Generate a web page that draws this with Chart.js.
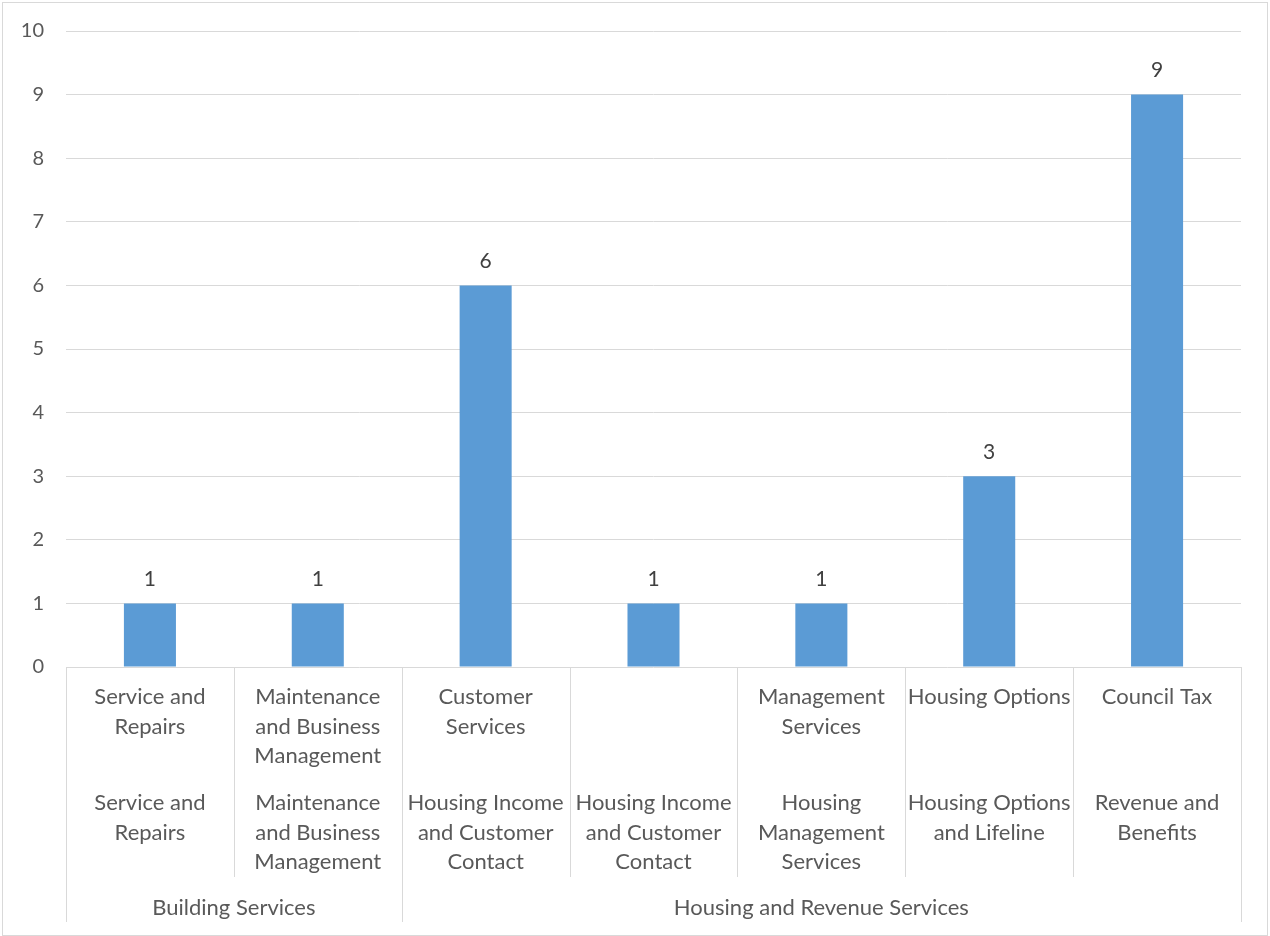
<!DOCTYPE html>
<html>
<head>
<meta charset="utf-8">
<script src="https://cdn.jsdelivr.net/npm/chart.js@4.4.1/dist/chart.umd.min.js"></script>
<style>
  html, body { margin: 0; padding: 0; background: #fff; }
  #wrap { width: 1270px; height: 936px; }
</style>
</head>
<body>
<div id="wrap"><canvas id="chart" width="1270" height="936"></canvas></div>
<script>
// ---------------------------------------
// data
// ---------------------------------------
const teamLabels = [
  ["Service and", "Repairs"],
  ["Maintenance", "and Business", "Management"],
  ["Customer", "Services"],
  [""],
  ["Management", "Services"],
  ["Housing Options"],
  ["Council Tax"],
];
const serviceLabels = [
  ["Service and", "Repairs"],
  ["Maintenance", "and Business", "Management"],
  ["Housing Income", "and Customer", "Contact"],
  ["Housing Income", "and Customer", "Contact"],
  ["Housing", "Management", "Services"],
  ["Housing Options", "and Lifeline"],
  ["Revenue and", "Benefits"],
];
const directorates = ["Building Services", "Housing and Revenue Services"];
const directorateSpans = [2, 5];
const counts = [1, 1, 6, 1, 1, 3, 9];
const yTicks = [0, 1, 2, 3, 4, 5, 6, 7, 8, 9, 10];

const FONT = "Lato, 'Open Sans', sans-serif";
const FONT_SIZE = 22;
const GRID = "#d9d9d9";

// ---------------------------------------
// value labels above bars
// ---------------------------------------
const valueLabels = {
  id: "valueLabels",
  afterDatasetsDraw(chart) {
    const ctx = chart.ctx;
    const meta = chart.getDatasetMeta(0);
    ctx.save();
    ctx.font = "21px " + FONT;
    ctx.fillStyle = "#404040";
    ctx.textAlign = "center";
    ctx.textBaseline = "middle";
    meta.data.forEach((bar, i) => {
      ctx.fillText(String(counts[i]), bar.x, bar.y - 24);
    });
    ctx.restore();
  },
};

// ---------------------------------------
// multi level category axis + frame
// ---------------------------------------
const multiAxis = {
  id: "multiAxis",
  afterDraw(chart) {
    const ctx = chart.ctx;
    const x = chart.scales.x;
    const area = chart.chartArea;
    const n = counts.length;
    const edges = [area.left];
    for (let i = 0; i < n - 1; i++) {
      edges.push((x.getPixelForValue(i) + x.getPixelForValue(i + 1)) / 2);
    }
    edges.push(area.right);

    const base = area.bottom;
    const innerBottom = base + 210;
    const outerBottom = base + 255;

    ctx.save();
    ctx.strokeStyle = GRID;
    ctx.lineWidth = 1;

    // group boundaries
    const groupEdges = [0];
    directorateSpans.forEach((s) => groupEdges.push(groupEdges[groupEdges.length - 1] + s));

    edges.forEach((ex, i) => {
      const px = Math.round(ex) + 0.5;
      const isGroup = groupEdges.includes(i);
      ctx.beginPath();
      ctx.moveTo(px, base);
      ctx.lineTo(px, isGroup ? outerBottom : innerBottom);
      ctx.stroke();
    });

    ctx.font = FONT_SIZE + "px " + FONT;
    ctx.fillStyle = "#595959";
    ctx.textAlign = "center";
    ctx.textBaseline = "middle";
    const lh = 29.5;

    for (let i = 0; i < n; i++) {
      const cx = x.getPixelForValue(i);
      teamLabels[i].forEach((t, k) => ctx.fillText(t, cx, base + 30 + k * lh));
      serviceLabels[i].forEach((t, k) => ctx.fillText(t, cx, base + 136 + k * lh));
    }
    directorates.forEach((name, g) => {
      const cx = (edges[groupEdges[g]] + edges[groupEdges[g + 1]]) / 2;
      ctx.fillText(name, cx, base + 241);
    });

    // outer chart frame
    ctx.strokeStyle = GRID;
    ctx.strokeRect(2.5, 2.5, chart.width - 5, chart.height - 3);
    ctx.restore();
  },
};

// ---------------------------------------
// chart
// ---------------------------------------
const ctx = document.getElementById("chart").getContext("2d");
new Chart(ctx, {
  type: "bar",
  data: {
    labels: teamLabels.map((l) => l.join(" ")),
    datasets: [
      {
        data: counts,
        backgroundColor: "#5b9bd5",
        barPercentage: 0.31,
        categoryPercentage: 1,
      },
    ],
  },
  options: {
    responsive: false,
    animation: false,
    layout: { padding: { top: 31, right: 29, left: 0, bottom: 0 } },
    plugins: { legend: { display: false }, tooltip: { enabled: false } },
    scales: {
      x: {
        grid: { display: false },
        border: { display: false },
        ticks: { display: false },
        afterFit: (scale) => { scale.height = 269; },
      },
      y: {
        min: 0,
        max: 10,
        afterBuildTicks: (scale) => { scale.ticks = yTicks.map((v) => ({ value: v })); },
        grid: { color: GRID, drawTicks: false },
        border: { display: false },
        ticks: {
          padding: 22,
          color: "#595959",
          font: { family: FONT, size: 20 },
        },
        afterFit: (scale) => {
          scale.width = 66;
          scale.paddingTop = 0;
          scale.paddingBottom = 0;
        },
      },
    },
  },
  plugins: [valueLabels, multiAxis],
});
</script>
</body>
</html>
